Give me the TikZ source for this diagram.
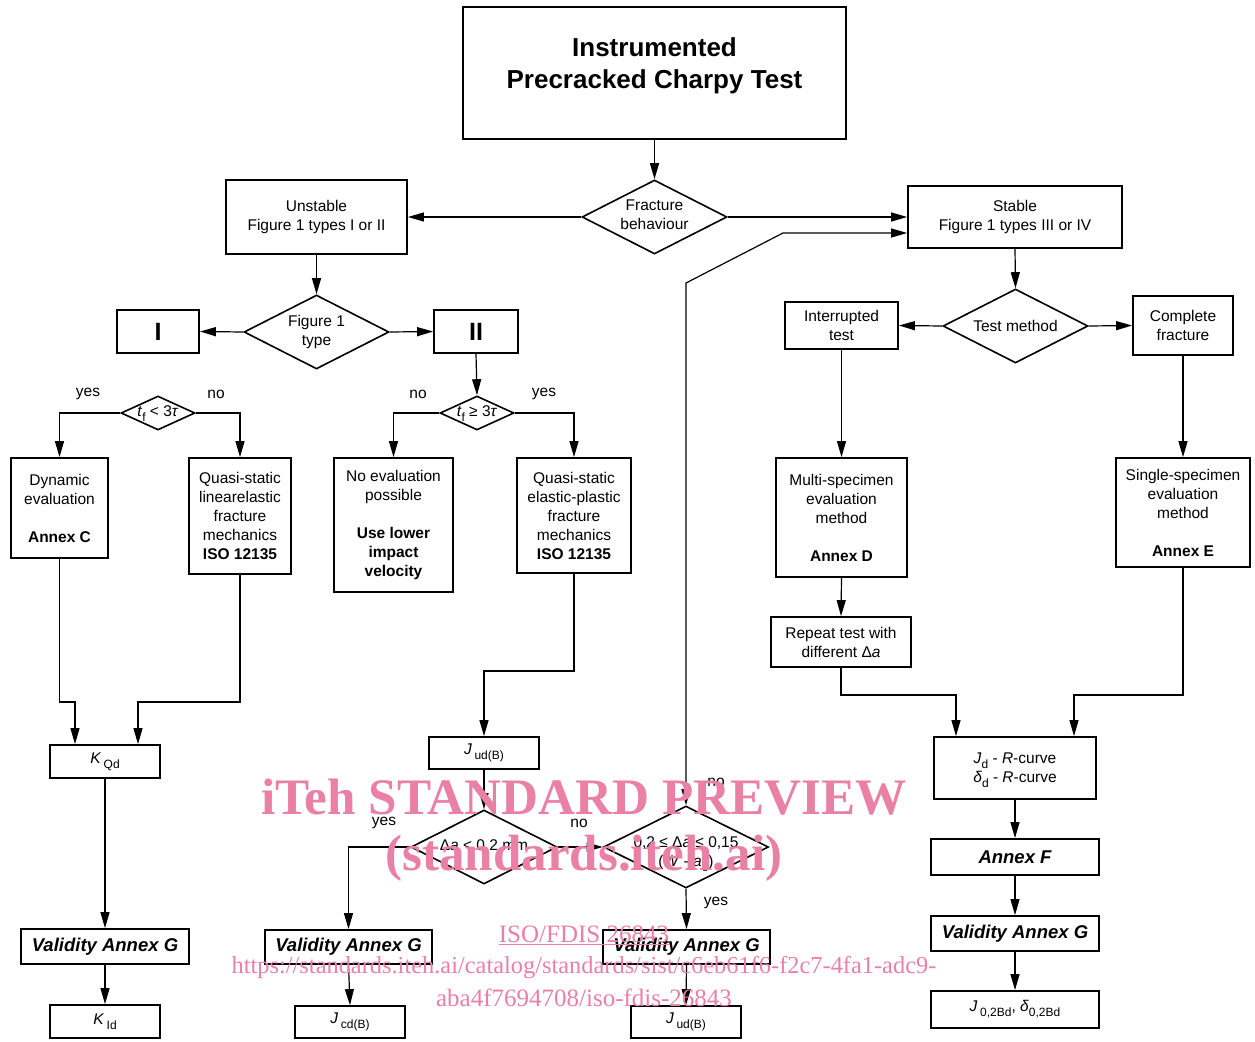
\documentclass[tikz,border=0pt]{standalone}
\usepackage{fontspec}
\setmainfont{Liberation Sans}
\newfontfamily\wmfont{Liberation Serif}
\usetikzlibrary{shapes.geometric,arrows.meta}
\newcommand{\sbs}[1]{\raisebox{-5pt}{\fontsize{12}{12}\selectfont #1}}
\definecolor{wmpink}{RGB}{234,128,163}
\begin{document}
\begin{tikzpicture}[x=1pt,y=-1pt,
  every node/.style={font=\fontsize{15.5}{19}\selectfont},
  bx/.style 2 args={draw,line width=1.8pt,align=center,inner sep=0pt,minimum width=#1,minimum height=#2},
  dia/.style 2 args={draw,diamond,line width=1.6pt,inner sep=0pt,minimum width=#1,minimum height=#2},
  dtext/.style={align=center,inner sep=0pt},
  bi/.style={font=\fontsize{18.5}{22}\selectfont\bfseries\itshape},
  conn/.style={line width=1.2pt,-{Triangle[length=16pt,width=9pt]}},
  both/.style={line width=1.2pt,{Triangle[length=16pt,width=9pt]}-{Triangle[length=16pt,width=9pt]}},
  lbl/.style={inner sep=0pt},
  wm/.style={text=wmpink,inner sep=0pt}]
\useasboundingbox[fill=white] (0,0) rectangle (1255,1041);

% nodes
\node[bx={383}{132}] (title) at (654.5,73) {};
\node[dtext,font=\fontsize{26}{32}\selectfont\bfseries] (titlet) at (654.5,66) {Instrumented\\Precracked Charpy Test};
\node[dia={145}{74}] (fb) at (654.5,217) {};
\node[dtext] (fbt) at (654.5,215) {Fracture\\behaviour};
\node[bx={181}{74}] (unst) at (316.5,217) {Unstable\\Figure 1 types I or II};
\node[bx={214}{62}] (stab) at (1015,217) {Stable\\Figure 1 types III or IV};

\node[dia={145}{74}] (f1) at (316.5,332) {};
\node[dtext] (f1t) at (316.5,332) {Figure 1\\type};
\node[bx={82}{43},font=\fontsize{25}{30}\selectfont\bfseries] (bI) at (158,331.5) {I};
\node[bx={84}{43},font=\fontsize{25}{30}\selectfont\bfseries] (bII) at (476,331.5) {II};

\node[dia={74}{34}] (d1) at (158,413) {};
\node[dtext] (d1t) at (158,414) {\textit{t}\sbs{f} < 3\textit{τ}};
\node[dia={74}{34}] (d2) at (477,413) {};
\node[dtext] (d2t) at (477,414) {\textit{t}\sbs{f} ≥ 3\textit{τ}};

\node[bx={97}{100}] (dyn) at (59.5,508) {Dynamic\\evaluation\\[19pt]\textbf{Annex C}};
\node[bx={102}{116}] (ql) at (240,516) {Quasi-static\\linearelastic\\fracture\\mechanics\\\textbf{ISO 12135}};
\node[bx={119}{134}] (noev) at (393.5,525) {No evaluation\\possible\\[19pt]\textbf{Use lower}\\\textbf{impact}\\\textbf{velocity}};
\node[bx={114}{115}] (qe) at (574,515.5) {Quasi-static\\elastic-plastic\\fracture\\mechanics\\\textbf{ISO 12135}};

\node[bx={110}{33}] (kqd) at (105,761.5) {\textit{K}\,\sbs{Qd}};
\node[bx={168}{35},bi] (v1) at (105,946.5) {Validity Annex G};
\node[bx={110}{33}] (kid) at (105,1021.5) {\textit{K}\,\sbs{Id}};

\node[bx={110}{32}] (jud1) at (484,753) {\textit{J}\,\sbs{ud(B)}};
\node[dia={146}{74}] (d3) at (484,847) {};
\node[dtext] (d3t) at (484,846) {Δ\textit{a} < 0,2 mm};
\node[dia={165}{82}] (d4) at (686,847) {};
\node[dtext] (d4t) at (686,854) {0,2 ≤ Δ\textit{a} ≤ 0,15\\(\textit{W} - \textit{a}\sbs{o})};
\node[bx={167}{34},bi] (v2) at (348.5,947) {Validity Annex G};
\node[bx={167}{34},bi] (v3) at (686.5,947) {Validity Annex G};
\node[bx={110}{32}] (jcd) at (350,1022) {\textit{J}\,\sbs{cd(B)}};
\node[bx={110}{32}] (jud2) at (686,1022) {\textit{J}\,\sbs{ud(B)}};

\node[dia={145}{74}] (tm) at (1015.5,326) {};
\node[dtext] (tmt) at (1015.5,326) {Test method};
\node[bx={113}{47}] (intr) at (841.5,325.5) {Interrupted\\test};
\node[bx={100}{59}] (comp) at (1183,325.5) {Complete\\fracture};
\node[bx={131}{119}] (multi) at (841.5,517.5) {Multi-specimen\\evaluation\\method\\[19pt]\textbf{Annex D}};
\node[bx={134}{109}] (single) at (1183,512.5) {Single-specimen\\evaluation\\method\\[19pt]\textbf{Annex E}};
\node[bx={140}{50}] (rep) at (841,642) {Repeat test with\\different Δ\textit{a}};
\node[bx={162}{62}] (jd) at (1015,768) {};
\node[dtext] (jdt) at (1015,770) {\textit{J}\sbs{d} - \textit{R}-curve\\\textit{δ}\sbs{d} - \textit{R}-curve};
\node[bx={168}{36},bi] (af) at (1015,857) {Annex F};
\node[bx={168}{35},bi] (v4) at (1015,933.5) {Validity Annex G};
\node[bx={168}{37}] (j02) at (1015,1009.5) {\textit{J}\,\sbs{0,2Bd}, \textit{δ}\sbs{0,2Bd}};

% labels
\node[lbl] (l1) at (88,394) {yes};
\node[lbl] (l2) at (216,394) {no};
\node[lbl] (l3) at (418,394) {no};
\node[lbl] (l4) at (544,394) {yes};
\node[lbl] (l5) at (384,823) {yes};
\node[lbl] (l6) at (579,823) {no};
\node[lbl] (l7) at (716,782) {no};
\node[lbl] (l8) at (716,903) {yes};

% coordinates
\coordinate (k1) at (686,283);
\coordinate (k2) at (783,233);
\coordinate (k3) at (75,702);
\coordinate (k4) at (138,702);
\coordinate (k5) at (484,671);
\coordinate (k6) at (956,695);
\coordinate (k7) at (1074,695);

% connectors
\draw[conn] (title.south) -- (fb.north);
\draw[conn] (fb.west) -- (unst.east);
\draw[conn] (fb.east) -- (stab.west);
\draw[conn] (unst.south) -- (f1.north);
\draw[conn] (f1.west) -- (bI.east);
\draw[conn] (f1.east) -- (bII.west);
\draw[conn] (bII.south) -- (d2.north);
\draw[conn] (d1.west) -| (dyn.north);
\draw[conn] (d1.east) -| (ql.north);
\draw[conn] (d2.west) -| (noev.north);
\draw[conn] (d2.east) -| (qe.north);
\draw[conn] (dyn.south) |- (k3) -- (k3 |- kqd.north);
\draw[conn] (ql.south) |- (k4) -- (k4 |- kqd.north);
\draw[conn] (kqd.south) -- (v1.north);
\draw[conn] (v1.south) -- (kid.north);
\draw[conn] (qe.south) |- (k5) -- (jud1.north);
\draw[conn] (jud1.south) -- (d3.north);
\draw[conn] (d3.west) -| (v2.north);
\draw[conn] (d3.east) -- (d4.west);
\draw[conn] (d4.south) -- (v3.north);
\draw[conn] (v2.south) -- (jcd.north);
\draw[conn] (v3.south) -- (jud2.north);
\draw[both] (d4.north) -- (k1) -- (k2) -- (k2 -| stab.west);
\draw[conn] (stab.south) -- (tm.north);
\draw[conn] (tm.west) -- (intr.east);
\draw[conn] (tm.east) -- (comp.west);
\draw[conn] (intr.south) -- (multi.north);
\draw[conn] (comp.south) -- (single.north);
\draw[conn] (multi.south) -- (rep.north);
\draw[conn] (rep.south) |- (k6) -- (k6 |- jd.north);
\draw[conn] (single.south) |- (k7) -- (k7 |- jd.north);
\draw[conn] (jd.south) -- (af.north);
\draw[conn] (af.south) -- (v4.north);
\draw[conn] (v4.south) -- (j02.north);

% watermark
\node[wm,font=\wmfont\fontsize{51.2}{56}\selectfont\bfseries] (w1) at (584,797) {iTeh STANDARD PREVIEW};
\node[wm,font=\wmfont\fontsize{51}{56}\selectfont\bfseries] (w2) at (584,858) {(standards.iteh.ai)};
\node[wm,font=\wmfont\fontsize{25}{28}\selectfont] (w3) at (584,935) {\underline{ISO/FDIS 26843}};
\node[wm,font=\wmfont\fontsize{24.4}{28}\selectfont] (w4) at (584,968) {https://standards.iteh.ai/catalog/standards/sist/c6eb61f6-f2c7-4fa1-adc9-};
\node[wm,font=\wmfont\fontsize{25}{28}\selectfont] (w5) at (584,998) {aba4f7694708/iso-fdis-26843};
\end{tikzpicture}
\end{document}
